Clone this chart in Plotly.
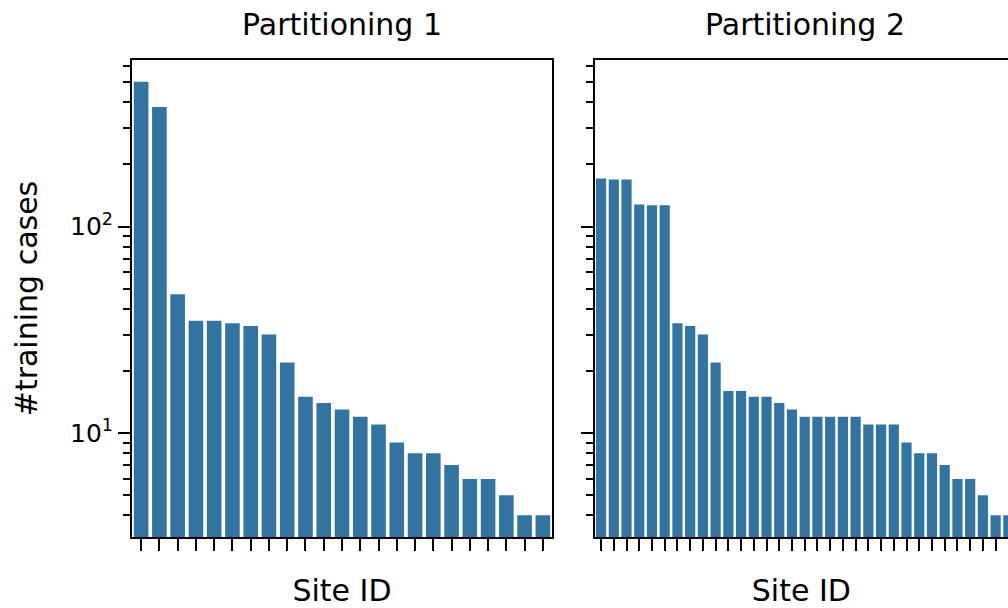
import math
import plotly.graph_objects as go

# ---- data ----
titles = ["Partitioning 1", "Partitioning 2"]
cases_p1 = [503, 379, 47, 35, 35, 34, 33, 30, 22, 15, 14, 13, 12, 11, 9, 8, 8, 7, 6, 6, 5, 4, 4]
cases_p2 = [171, 169, 169, 128, 127, 127, 34, 33, 30, 22, 16, 16, 15, 15, 14, 13,
            12, 12, 12, 12, 12, 11, 11, 11, 9, 8, 8, 7, 6, 6, 5, 4, 4]
sites_p1 = list(range(len(cases_p1)))
sites_p2 = list(range(len(cases_p2)))
major_ticks = [10, 100]
major_text = ["10<sup>1</sup>", "10<sup>2</sup>"]
minor_ticks = [4, 5, 6, 7, 8, 9, 20, 30, 40, 50, 60, 70, 80, 90, 200, 300, 400, 500, 600]

BAR = "#3274a1"
FONT = "DejaVu Sans"

fig = go.Figure()
fig.add_trace(go.Bar(x=sites_p1, y=cases_p1, width=0.8, marker=dict(color=BAR, line=dict(width=0)),
                     xaxis="x", yaxis="y", showlegend=False))
fig.add_trace(go.Bar(x=sites_p2, y=cases_p2, width=0.8, marker=dict(color=BAR, line=dict(width=0)),
                     xaxis="x2", yaxis="y2", showlegend=False))

allv = cases_p1 + cases_p2
lo, hi = math.log10(min(allv)), math.log10(max(allv))
pad = 0.05 * (hi - lo)
yr = [lo - pad, hi + pad]

W, H = 1008, 608
ml, mt, mb, mr = 132, 60, 71, 0
pw = W - ml - mr
d1 = [0, 420 / pw]
d2 = [462.7 / pw, 1]
# panel 2 width equals panel 1 width (420px); visible part is cut by the figure edge
n2 = len(cases_p2)
vis2 = (W - ml - d2[0] * pw) / 420 * n2
x2range = [-0.5, -0.5 + vis2]

common_x = dict(showline=True, linecolor="black", linewidth=2, mirror=True, ticks="outside",
                ticklen=12, tickwidth=2, tickcolor="black", showgrid=False, zeroline=False,
                tickmode="array", showticklabels=False,
                title=dict(text="Site ID", font=dict(family=FONT, size=30, color="black"), standoff=31))
common_y = dict(type="log", range=yr, showline=True, linecolor="black", linewidth=2,
                ticks="outside", ticklen=12, tickwidth=2, tickcolor="black", showgrid=False,
                zeroline=False, tickmode="array", tickvals=major_ticks, ticktext=major_text,
                tickfont=dict(family=FONT, size=25, color="black"),
                minor=dict(tickmode="array", tickvals=minor_ticks, ticks="outside", ticklen=7,
                           tickwidth=1.5, tickcolor="black", showgrid=False))

fig.update_layout(
    width=W, height=H, margin=dict(l=ml, r=mr, t=mt, b=mb),
    paper_bgcolor="white", plot_bgcolor="white", bargap=0.2,
    font=dict(family=FONT, color="black"),
    xaxis=dict(domain=d1, range=[-0.5, len(cases_p1) - 0.5], tickvals=sites_p1, **common_x),
    xaxis2=dict(domain=d2, range=x2range, tickvals=sites_p2, anchor="y2", **common_x),
    yaxis=dict(domain=[0, 1], mirror=True, anchor="x",
               title=dict(text="#training cases", font=dict(family=FONT, size=30, color="black"), standoff=24),
               **common_y),
    yaxis2=dict(domain=[0, 1], mirror=False, anchor="x2", showticklabels=False, **common_y),
)

ph = H - mt - mb
for i, t in enumerate(titles):
    d = d1 if i == 0 else [d2[0], d2[0] + 420 / pw]
    fig.add_annotation(text=t, xref="paper", yref="paper", x=(d[0] + d[1]) / 2, y=1 + 35 / ph,
                       xanchor="center", yanchor="middle", showarrow=False,
                       font=dict(family=FONT, size=30, color="black"))

fig.write_html("out.html")
